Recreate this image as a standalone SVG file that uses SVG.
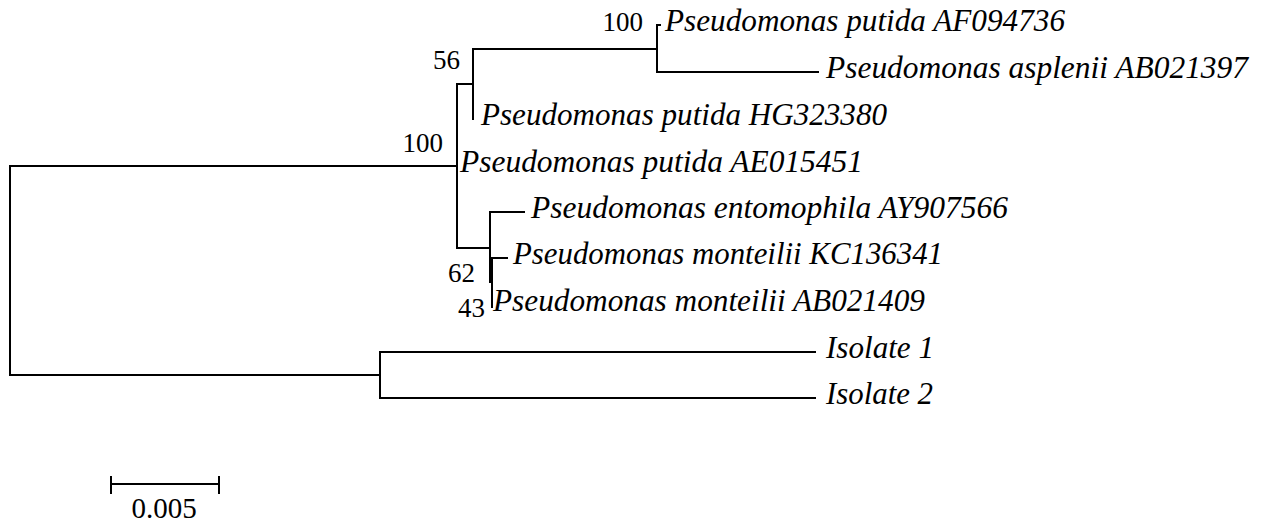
<svg xmlns="http://www.w3.org/2000/svg" width="1261" height="525" viewBox="0 0 1261 525">
<style>
.br{fill:none;stroke:#000;stroke-width:2;stroke-linecap:square}
.lf{font-family:"Liberation Serif","Times New Roman",serif;font-style:italic;font-size:31px;fill:#000}
.bs{font-family:"Liberation Serif","Times New Roman",serif;font-size:27px;fill:#000;text-anchor:end}
</style>
<rect width="1261" height="525" fill="#fff"/>
<g id="connectors">
<path class="br" d="M457,166 H10 V375 H380"/>
<path class="br" d="M380,352 V398"/>
<path class="br" d="M380,352 H815"/>
<path class="br" d="M380,398 H815"/>
<path class="br" d="M457,84 V248"/>
<path class="br" d="M457,84 H473"/>
<path class="br" d="M473,49 V119"/>
<path class="br" d="M473,49 H657"/>
<path class="br" d="M657,25 V72"/>
<path class="br" d="M657,25 H660"/>
<path class="br" d="M657,72 H818"/>
<path class="br" d="M457,248 H490"/>
<path class="br" d="M490,212 V282"/>
<path class="br" d="M490,212 H524"/>
<path class="br" d="M490,282 H492"/>
<path class="br" d="M492,258 V307"/>
<path class="br" d="M492,258 H507"/>
</g>
<g id="bootstrap">
<text class="bs" x="643" y="31">100</text>
<text class="bs" x="460" y="69">56</text>
<text class="bs" x="443" y="152">100</text>
<text class="bs" x="475" y="282">62</text>
<text class="bs" x="485" y="317">43</text>
</g>
<g id="leaf-AF094736"><text class="lf" x="665" y="31" textLength="400" lengthAdjust="spacingAndGlyphs">Pseudomonas putida AF094736</text></g>
<g id="leaf-AB021397"><text class="lf" x="826" y="78" textLength="422" lengthAdjust="spacingAndGlyphs">Pseudomonas asplenii AB021397</text></g>
<g id="leaf-HG323380"><text class="lf" x="481" y="125" textLength="406" lengthAdjust="spacingAndGlyphs">Pseudomonas putida HG323380</text></g>
<g id="leaf-AE015451"><text class="lf" x="460" y="172" textLength="403" lengthAdjust="spacingAndGlyphs">Pseudomonas putida AE015451</text></g>
<g id="leaf-AY907566"><text class="lf" x="531" y="218" textLength="477" lengthAdjust="spacingAndGlyphs">Pseudomonas entomophila AY907566</text></g>
<g id="leaf-KC136341"><text class="lf" x="513" y="264" textLength="430" lengthAdjust="spacingAndGlyphs">Pseudomonas monteilii KC136341</text></g>
<g id="leaf-AB021409"><text class="lf" x="493" y="311" textLength="432" lengthAdjust="spacingAndGlyphs">Pseudomonas monteilii AB021409</text></g>
<g id="leaf-isolate1"><text class="lf" x="826" y="358" textLength="108" lengthAdjust="spacingAndGlyphs">Isolate 1</text></g>
<g id="leaf-isolate2"><text class="lf" x="826" y="404" textLength="107" lengthAdjust="spacingAndGlyphs">Isolate 2</text></g>
<g id="scale">
<path class="br" d="M111,484 H219 M111,477 V493 M219,477 V493"/>
<text class="bs" x="164" y="518" style="text-anchor:middle;font-size:29px">0.005</text>
</g>
</svg>
